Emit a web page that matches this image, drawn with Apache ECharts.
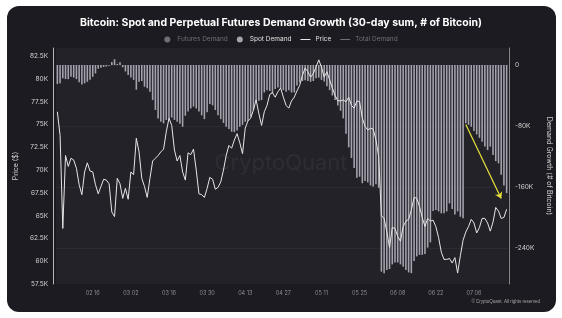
<!DOCTYPE html>
<html>
<head>
<meta charset="utf-8">
<script src="https://cdn.jsdelivr.net/npm/echarts@6/dist/echarts.min.js"></script>
<style>
  html, body { margin: 0; padding: 0; background: #fff; }
  #card { position: absolute; left: 7px; top: 6px; width: 549px; height: 306px; background: #1c1b21; border-radius: 12px; }
  #chart { position: absolute; left: 0; top: 0; width: 562px; height: 318px; }
</style>
</head>
<body>
<div id="card"></div>
<div id="chart"></div>
<script>
// daily categories, 02 03 .. 07 18
const startDay = Date.UTC(2025, 1, 3);
const dayCount = 166;
const dates = [];
for (let i = 0; i < dayCount; i++) {
  const d = new Date(startDay + i * 86400000);
  dates.push(String(d.getUTCMonth() + 1).padStart(2, '0') + ' ' + String(d.getUTCDate()).padStart(2, '0'));
}
const tickLabels = ['02 16', '03 02', '03 16', '03 30', '04 13', '04 27', '05 11', '05 25', '06 08', '06 22', '07 06'];

// Price ($)
const price = [
  76400, 73800, 63600, 71600, 70400, 71300, 71100, 70200, 68400, 67300,
  69800, 70800, 69900, 69800, 68400, 67400, 68200, 69000, 68900, 68500,
  65400, 64900, 69100, 68500, 66900, 68000, 66800, 69800, 69500, 73500,
  72000, 69100, 68200, 67000, 69100, 71000, 71300, 71600, 72000, 72300,
  74200, 75700, 74900, 72200, 71000, 71600, 69800, 68900, 71900, 71700,
  72300, 70000, 67400, 67300, 67000, 68000, 69200, 69000, 67900, 68100,
  68700, 70000, 71600, 72700, 72400, 73300, 74000, 73000, 71800, 74600,
  75400, 75700, 76600, 77700, 76200, 74900, 76400, 77100, 78300, 78500,
  78000, 78600, 79000, 78000, 77100, 76800, 77600, 78000, 78700, 79300,
  80400, 81200, 80800, 80200, 80600, 81300, 82100, 81300, 80200, 80800,
  79900, 79000, 78200, 77600, 77600, 77700, 77500, 78000, 77100, 76800,
  77600, 77500, 75700, 74800, 74400, 74600, 74500, 73300, 71500, 65000,
  64700, 63200, 61500, 63700, 63600, 62700, 62200, 63800, 64400, 64600,
  65600, 67000, 66900, 66000, 64800, 63800, 64700, 64400, 64500, 63800,
  62600, 61000, 60200, 60200, 60300, 59800, 60400, 58700, 60600, 62300,
  63200, 63800, 64600, 64200, 63100, 63700, 64700, 64700, 64200, 63300,
  64300, 65900, 65500, 64700, 64800, 65700
];

// Spot Demand, 30-day sum (# of Bitcoin)
const spotDemand = [
  -25000, -24000, -17500, -18500, -18500, -15500, -16500, -18500, -22500, -25500,
  -24000, -22000, -19500, -15500, -11000, -5000, -3500, -2500, -2000, -1000,
  4000, 7500, 1500, 3500, -3000, -8500, -13000, -16500, -19500, -32500,
  -22000, -21000, -28500, -30500, -35000, -46000, -59000, -70000, -74500, -76500,
  -72000, -70000, -69000, -72000, -74500, -77000, -81000, -66500, -61000, -57000,
  -54500, -57000, -61000, -66000, -71000, -62000, -51000, -53000, -59000, -66000,
  -71000, -76000, -81000, -84000, -87500, -88000, -86000, -81000, -78500, -74500,
  -73500, -68000, -59000, -48000, -47000, -46000, -36000, -33000, -34000, -37000,
  -31500, -29500, -30500, -33000, -35000, -33000, -36000, -36000, -27000, -23000,
  -21000, -20000, -21000, -22000, -21000, -17500, -16500, -19500, -21500, -28000,
  -33000, -40000, -46000, -53000, -60000, -70000, -90000, -108000, -122000, -135000,
  -148000, -146500, -155000, -152000, -154000, -158000, -159500, -156500, -161000, -271000,
  -273000, -269000, -267500, -261500, -259000, -259000, -261500, -264500, -269000, -272000,
  -273000, -257000, -251000, -249000, -249000, -248000, -239500, -232500, -191500, -190000,
  -192000, -194500, -194500, -192000, -181500, -189000, -196000, -192000, -199000, -201000,
  -76500, -78500, -81000, -86500, -91000, -95500, -100500, -107000, -111500, -107000,
  -118000, -126000, -129000, -144000, -158000, -168000
];

const futuresDemand = [];
const totalDemand = [];
const demandTicks = [0, -80000, -160000, -240000];

// yellow annotation arrow (category, demand)
const arrowFrom = [dates[150], -78000];
const arrowTo = [dates[163], -175000];

const lineIcon = 'path://M0,0H20V2H0Z';

const chart = echarts.init(document.getElementById('chart'));

chart.setOption({
  backgroundColor: 'transparent',
  animation: false,
  textStyle: { fontFamily: 'Inter, "Noto Sans", sans-serif' },
  title: {
    text: 'Bitcoin: Spot and Perpetual Futures Demand Growth (30-day sum, # of Bitcoin)',
    left: 'center',
    top: 12,
    textStyle: { color: '#ffffff', fontSize: 10.5, fontWeight: 'bold' }
  },
  legend: {
    top: 31,
    left: 'center',
    itemWidth: 10,
    itemHeight: 6,
    itemGap: 9,
    inactiveColor: '#6f6e76',
    textStyle: { color: '#e0e0e0', fontSize: 6.5 },
    data: [
      { name: 'Futures Demand', icon: 'circle' },
      { name: 'Spot Demand', icon: 'circle' },
      { name: 'Price', icon: lineIcon },
      { name: 'Total Demand', icon: lineIcon }
    ],
    selected: { 'Futures Demand': false, 'Total Demand': false }
  },
  grid: {
    left: 56,
    right: 54,
    top: 48,
    bottom: 34,
    show: true,
    backgroundColor: '#232229',
    borderWidth: 0
  },
  xAxis: {
    type: 'category',
    data: dates,
    boundaryGap: true,
    axisLine: { show: true, lineStyle: { color: '#2e2d35' } },
    axisTick: {
      show: true,
      alignWithLabel: true,
      length: 3,
      interval: (idx, val) => tickLabels.includes(val),
      lineStyle: { color: '#3c3b44' }
    },
    axisLabel: {
      interval: (idx, val) => tickLabels.includes(val),
      color: '#8d8c95',
      fontSize: 5.5,
      margin: 6
    },
    splitLine: { show: false }
  },
  yAxis: [
    {
      type: 'value',
      position: 'left',
      offset: 3,
      min: 57500,
      max: 83400,
      interval: 2500,
      name: 'Price ($)',
      nameLocation: 'middle',
      nameRotate: 90,
      nameGap: 26,
      nameTextStyle: { color: '#cfcfcf', fontSize: 7 },
      axisLine: { show: true, lineStyle: { color: '#b5b5b5', width: 1 } },
      axisTick: { show: false },
      axisLabel: {
        color: '#d5d5d5',
        fontSize: 6.5,
        margin: 5,
        showMaxLabel: false,
        formatter: v => (v / 1000) + 'K'
      },
      splitLine: { show: false }
    },
    {
      type: 'value',
      position: 'right',
      offset: 1,
      min: -287200,
      max: 22300,
      name: 'Demand Growth (# of Bitcoin)',
      nameLocation: 'middle',
      nameRotate: -90,
      nameGap: 30,
      nameTextStyle: { color: '#cfcfcf', fontSize: 7 },
      axisLine: { show: true, lineStyle: { color: '#8a8a8a', width: 1 } },
      axisTick: { show: false, customValues: demandTicks },
      axisLabel: {
        color: '#d5d5d5',
        fontSize: 6.5,
        margin: 6,
        customValues: demandTicks,
        formatter: v => (v === 0 ? '0' : (v / 1000) + 'K')
      },
      splitLine: { show: true, lineStyle: { color: 'rgba(255,255,255,0.045)', width: 1 } }
    }
  ],
  graphic: [
    {
      type: 'text',
      left: 'center',
      top: 152,
      z: 0,
      silent: true,
      style: { text: 'CryptoQuant', fill: 'rgba(255,255,255,0.05)', fontSize: 22, fontFamily: 'Inter, sans-serif' }
    },
    {
      type: 'text',
      right: 22,
      top: 299,
      silent: true,
      style: { text: '© CryptoQuant. All rights reserved', fill: '#a5a5a5', fontSize: 4.5 }
    }
  ],
  series: [
    {
      name: 'Futures Demand',
      type: 'bar',
      yAxisIndex: 1,
      data: futuresDemand,
      itemStyle: { color: '#8e8d98' }
    },
    {
      name: 'Spot Demand',
      type: 'bar',
      yAxisIndex: 1,
      data: spotDemand,
      barWidth: '58%',
      itemStyle: { color: '#a4a3ae' },
      markLine: {
        silent: true,
        symbol: ['none', 'arrow'],
        symbolSize: 6,
        label: { show: false },
        lineStyle: { color: '#e8e23a', width: 1.2, type: 'solid', curveness: 0.18 },
        data: [[{ coord: arrowFrom }, { coord: arrowTo }]]
      }
    },
    {
      name: 'Price',
      type: 'line',
      yAxisIndex: 0,
      data: price,
      symbol: 'none',
      z: 5,
      lineStyle: { color: '#e6e6e6', width: 1 },
      itemStyle: { color: '#e6e6e6' }
    },
    {
      name: 'Total Demand',
      type: 'line',
      yAxisIndex: 1,
      data: totalDemand,
      symbol: 'none',
      lineStyle: { color: '#9a9a9a', width: 1 },
      itemStyle: { color: '#9a9a9a' }
    }
  ]
});
</script>
</body>
</html>
